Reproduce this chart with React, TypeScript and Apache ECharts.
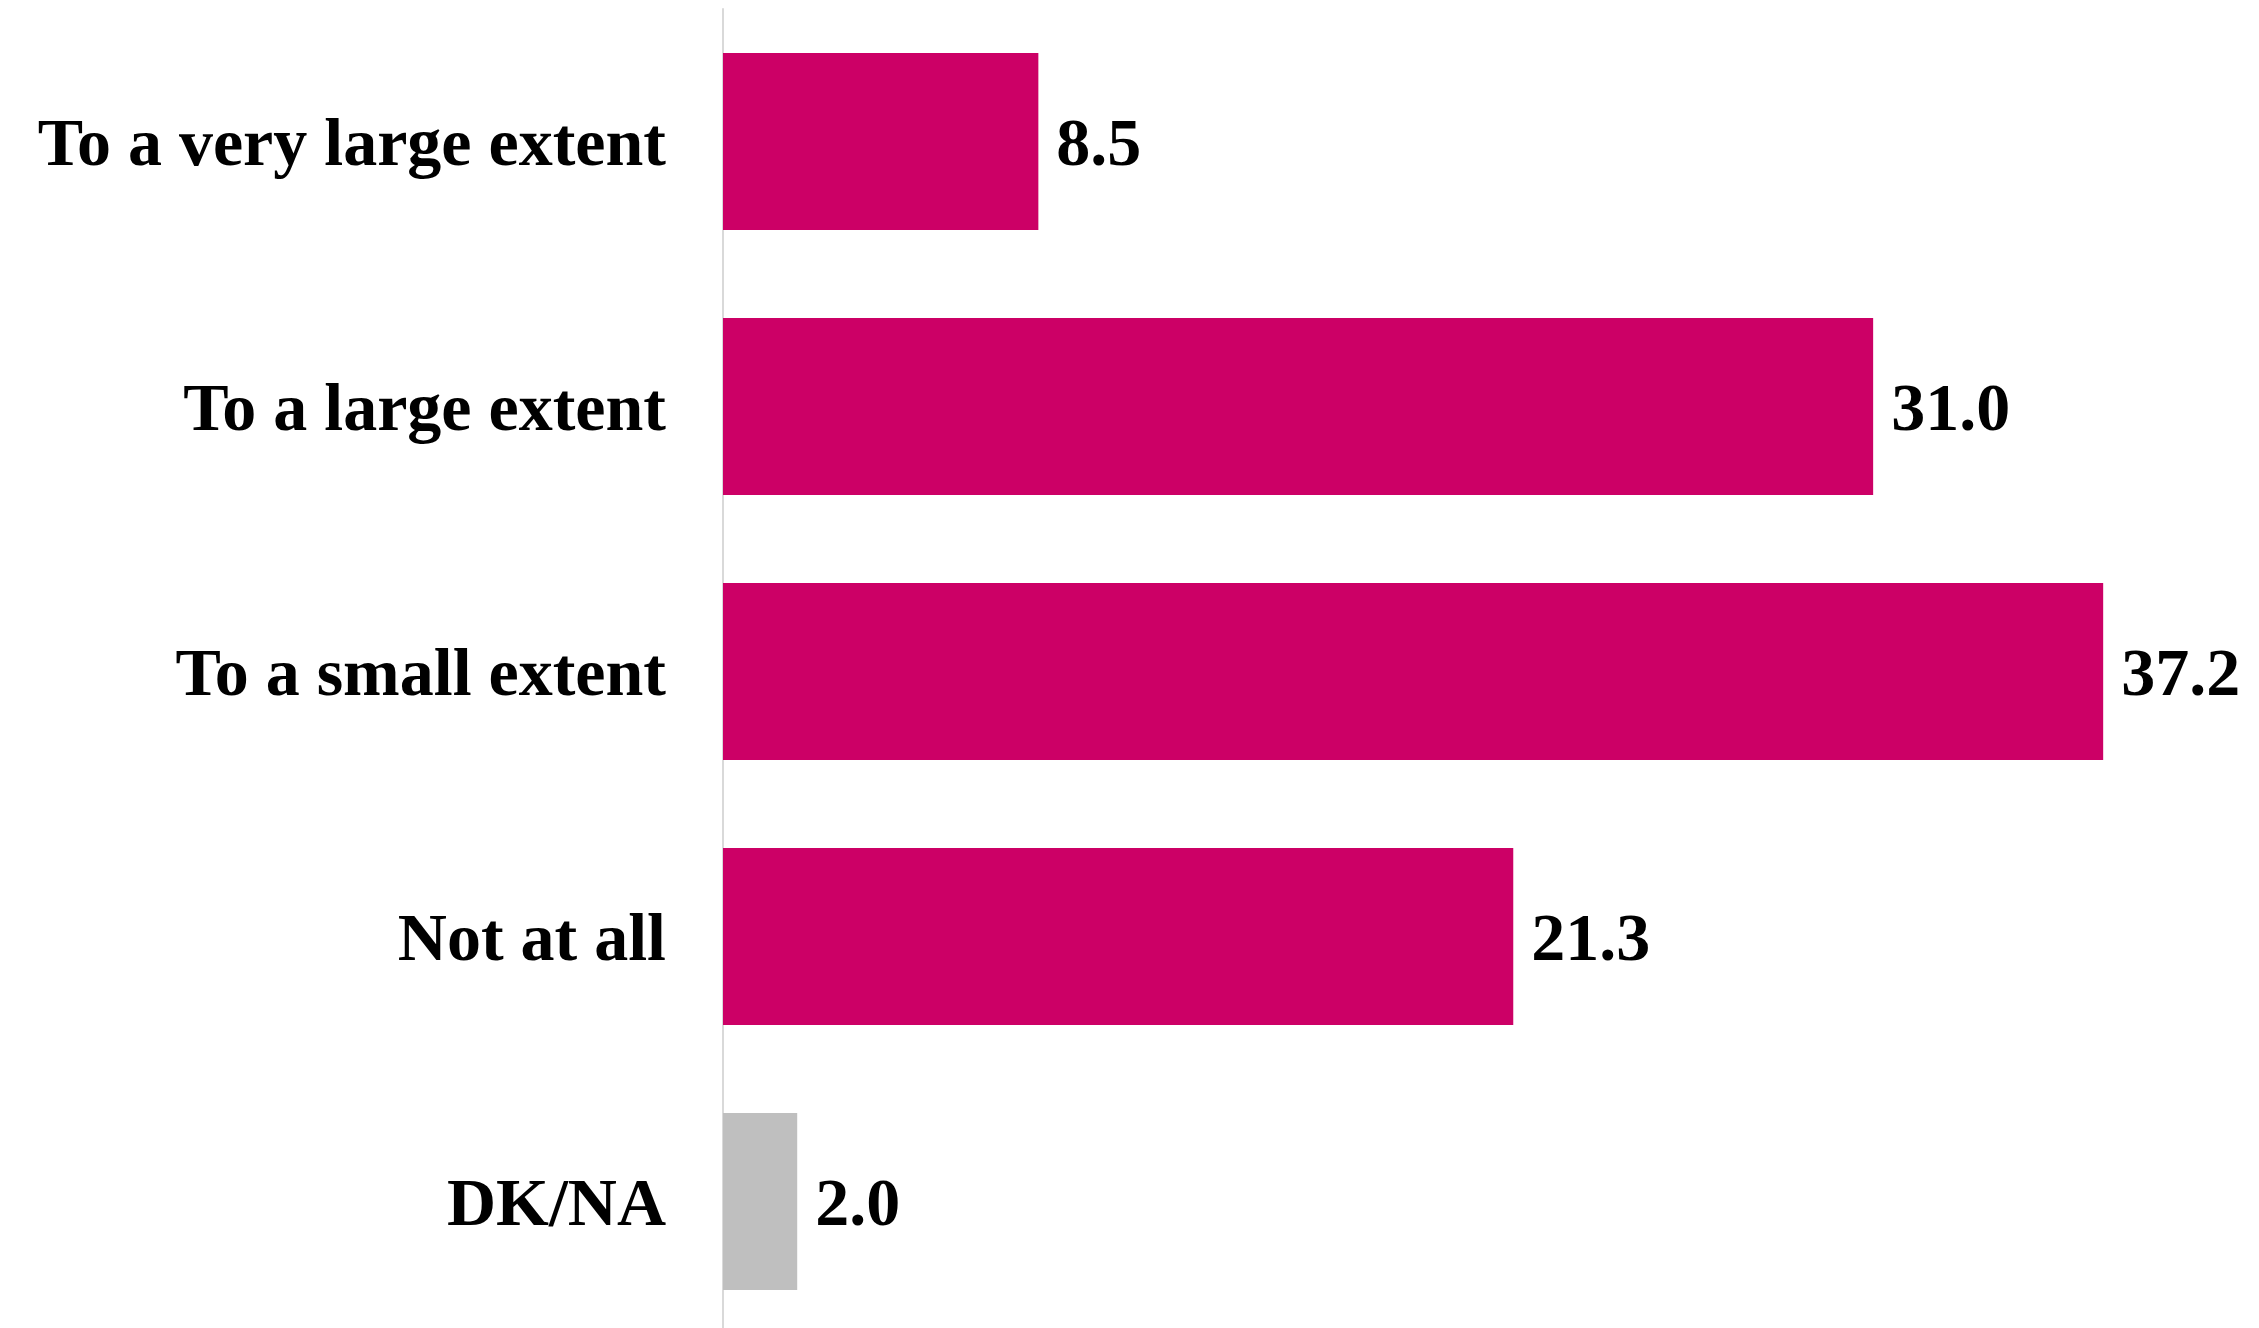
import React, { useEffect, useRef } from "react";
import * as echarts from "echarts";

const categories = [
  "To a very large extent",
  "To a large extent",
  "To a small extent",
  "Not at all",
  "DK/NA",
];
const values = [8.5, 31.0, 37.2, 21.3, 2.0];
const mutedCategory = "DK/NA";

const MAIN = "#CC0066";
const MUTED = "#BFBFBF";
const FONT = "'Liberation Serif', 'DejaVu Serif', serif";

export default function App() {
  const ref = useRef<HTMLDivElement>(null);

  useEffect(() => {
    if (!ref.current) return;
    const chart = echarts.init(ref.current, undefined, { renderer: "svg" });
    chart.setOption({
      animation: false,
      backgroundColor: "#FFFFFF",
      grid: { left: 723, right: 0, top: 9, bottom: 6, containLabel: false },
      xAxis: {
        type: "value",
        min: 0,
        max: 41.4,
        show: false,
        splitLine: { show: false },
      },
      yAxis: {
        type: "category",
        inverse: true,
        data: categories,
        axisLine: { show: true, lineStyle: { color: "#D9D9D9", width: 2 } },
        axisTick: { show: false },
        splitLine: { show: false },
        axisLabel: {
          color: "#000000",
          fontFamily: FONT,
          fontWeight: "bold",
          fontSize: 68,
          margin: 57,
        },
      },
      series: [
        {
          type: "bar",
          barCategoryGap: "33.2%",
          data: values.map((v, i) => ({
            value: v,
            itemStyle: { color: categories[i] === mutedCategory ? MUTED : MAIN },
          })),
          label: {
            show: true,
            position: "right",
            distance: 18,
            color: "#000000",
            fontFamily: FONT,
            fontWeight: "bold",
            fontSize: 68,
            formatter: (p: any) => Number(p.value).toFixed(1),
          },
        },
      ],
    });
    return () => chart.dispose();
  }, []);

  return (
    <div
      style={{
        position: "absolute",
        left: 0,
        top: 0,
        width: 2259,
        height: 1328,
        overflow: "hidden",
        background: "#FFFFFF",
      }}
    >
      <div ref={ref} style={{ width: 2259, height: 1340 }} />
    </div>
  );
}
